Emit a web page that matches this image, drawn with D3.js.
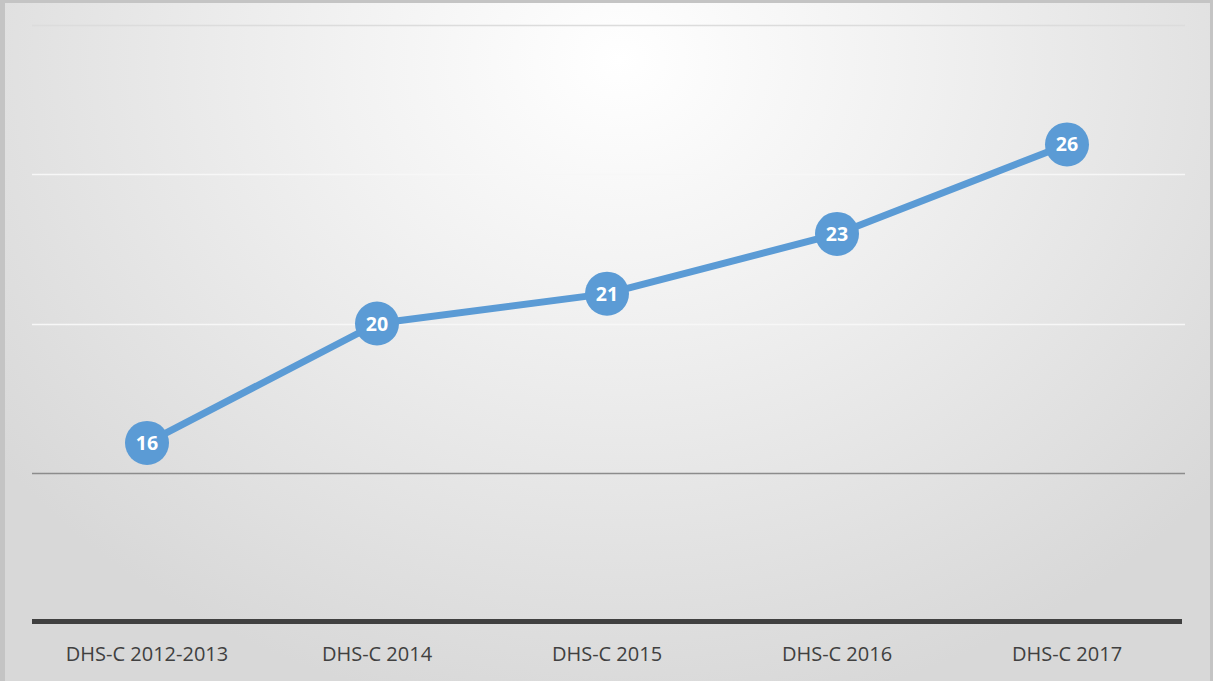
<!DOCTYPE html>
<html><head><meta charset="utf-8">
<script src="https://cdn.jsdelivr.net/npm/d3@7"></script>
<style>html,body{margin:0;padding:0;background:#fff;}svg{display:block;}</style>
</head><body>
<svg id="chart" width="1213" height="681"></svg>
<script>
const categories = ["DHS-C 2012-2013","DHS-C 2014","DHS-C 2015","DHS-C 2016","DHS-C 2017"];
const values = [16, 20, 21, 23, 26];
const yTicks = [15, 20, 25, 30];
const yDomain = [10, 30];

(function(){
const W = 1213, H = 681;
const svg = d3.select("#chart");
const defs = svg.append("defs");
const rg = defs.append("radialGradient").attr("id","bg")
  .attr("gradientUnits","userSpaceOnUse")
  .attr("cx", 620).attr("cy", 60).attr("r", 780)
  .attr("gradientTransform","translate(620,60) scale(1,0.85) translate(-620,-60)");
rg.append("stop").attr("offset","0%").attr("stop-color","#ffffff");
rg.append("stop").attr("offset","35%").attr("stop-color","#f2f2f2");
rg.append("stop").attr("offset","100%").attr("stop-color","#d8d8d8");

svg.append("rect").attr("x",0).attr("y",0).attr("width",W).attr("height",H).attr("fill","#c4c4c4");
svg.append("rect").attr("x",5).attr("y",3).attr("width",1205).attr("height",H-3).attr("fill","url(#bg)");

const mLeft = 32, mRight = 1182, mTop = 25, mBottom = 622;
const x = d3.scaleBand().domain(categories).range([mLeft, mRight]);
const y = d3.scaleLinear().domain(yDomain).range([mBottom, mTop]);

// gridlines
svg.append("g").selectAll("line").data(yTicks).join("line")
  .attr("x1", mLeft).attr("x2", mRight + 3)
  .attr("y1", d => Math.round(y(d))+0.5).attr("y2", d => Math.round(y(d))+0.5)
  .attr("stroke", d => d === 15 ? "#8c8c8c" : (d === 30 ? "#dcdcdc" : "#f7f7f7"))
  .attr("stroke-width", 1.5);

// x axis
const xAxis = svg.append("g").attr("transform", `translate(0,${mBottom})`)
  .call(d3.axisBottom(x).tickSize(0).tickPadding(24.5));
xAxis.select(".domain").attr("stroke","#404040").attr("stroke-width",5).attr("d", `M${mLeft},-0.5H${mRight}`);
xAxis.selectAll("text").attr("font-family","'Open Sans', 'Noto Sans', sans-serif")
  .attr("font-size", 20).attr("fill","#404040");

const cx = d => x(d) + x.bandwidth()/2;
const line = d3.line().x((d,i) => cx(categories[i])).y(d => y(d));
svg.append("path").datum(values).attr("d", line)
  .attr("fill","none").attr("stroke","#5b9bd5").attr("stroke-width",7).attr("stroke-linejoin","round");

const pts = svg.append("g").selectAll("g").data(values).join("g")
  .attr("transform", (d,i) => `translate(${cx(categories[i])},${y(d)})`);
pts.append("circle").attr("r", 22).attr("fill","#5b9bd5");
pts.append("text").text(d => d).attr("text-anchor","middle").attr("dy","0.36em")
  .attr("font-family","'Open Sans', 'Noto Sans', sans-serif").attr("font-weight","bold")
  .attr("font-size", 19.5).attr("fill","#ffffff");
})();
</script>
</body></html>
